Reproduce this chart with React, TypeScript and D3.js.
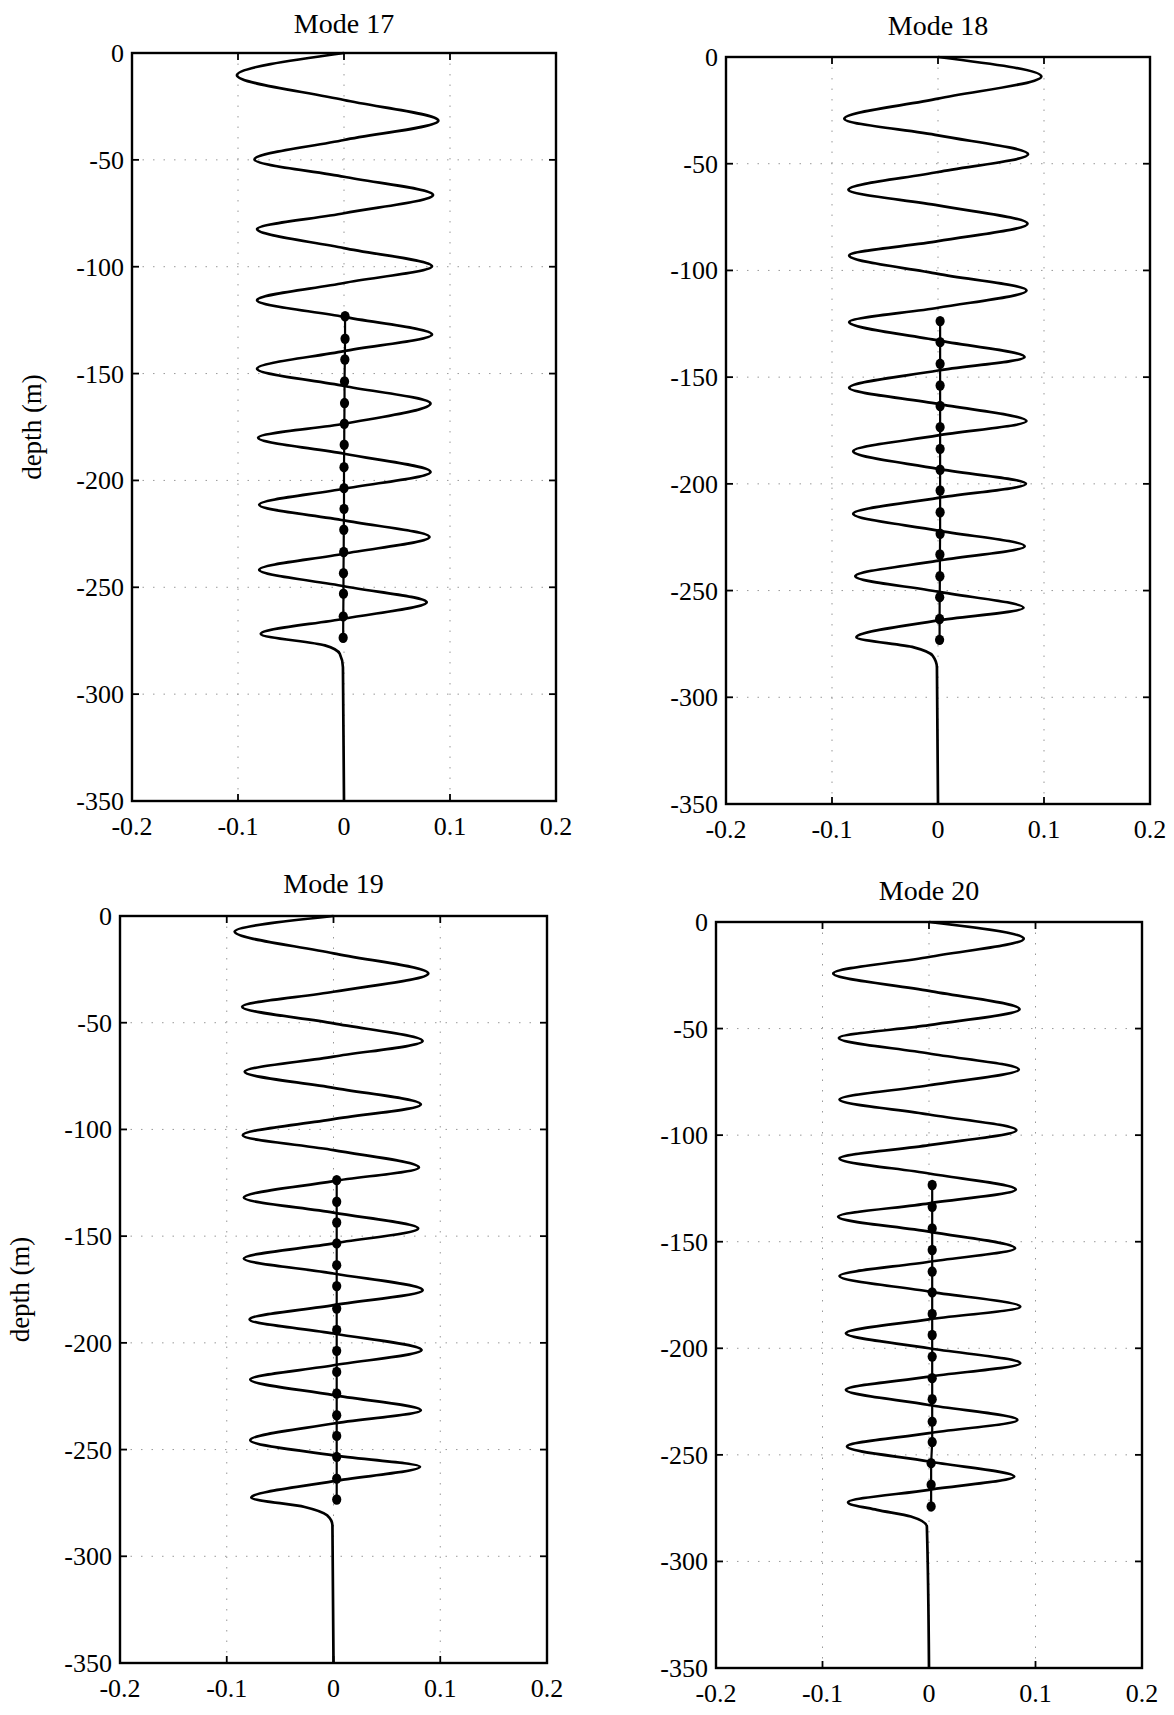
import React from "react";
import * as d3 from "d3";

const modeTitles = ["Mode 17", "Mode 18", "Mode 19", "Mode 20"];

const depth17 = [0, -10.4, -22, -31.7, -40.7, -49.8, -57.9, -66.4, -75, -82.4, -91.3, -99.8, -107.6, -115.7, -123.5, -131.7, -139.5, -147.7, -155.8, -164, -173.5, -180, -187.5, -196, -203.9, -211.4, -218.7, -226.5, -234.3, -241.8, -249.5, -257, -264.7, -271.8, -277.2, -281.1, -287.4, -350];
const value17 = [0, -0.101, 0, 0.089, 0, -0.0845, 0, 0.084, 0, -0.082, 0, 0.083, 0, -0.082, 0, 0.083, 0, -0.082, 0, 0.0816, 0, -0.081, 0, 0.0816, 0, -0.08, 0, 0.0806, 0, -0.08, 0, 0.078, 0, -0.0785, -0.018, -0.004, -0.001, 0];

const depth18 = [0, -9.1, -19.5, -28.9, -36.7, -45.6, -53.9, -62.2, -69.5, -78.1, -86.3, -93, -101.6, -109.4, -117.5, -124.2, -132.8, -140.6, -146.9, -155, -162.5, -170.6, -177.3, -184.7, -193, -200, -206.6, -214, -221.9, -229.2, -236, -243.3, -250.5, -258.1, -264, -271.9, -276.6, -280.5, -286, -350];
const value18 = [0, 0.0975, 0, -0.0884, 0, 0.085, 0, -0.0845, 0, 0.0845, 0, -0.0838, 0, 0.0835, 0, -0.0838, 0, 0.0817, 0, -0.0838, 0, 0.0835, 0, -0.08, 0, 0.083, 0, -0.08, 0, 0.0818, 0, -0.078, 0, 0.0807, 0, -0.077, -0.0228, -0.005, -0.001, 0];

const depth19 = [0, -7.3, -17.5, -26.9, -35.5, -42.5, -50.3, -58.6, -65.9, -73, -80.5, -88.3, -95.2, -102.7, -109.7, -117.8, -124.2, -131.9, -139, -146.4, -153.4, -160.5, -167.5, -175.3, -182.3, -189, -195.6, -203.4, -210.5, -217.2, -224.5, -231.6, -237.8, -245.6, -252.7, -258.1, -264.8, -272.5, -276.9, -280.8, -285.5, -350];
const value19 = [0, -0.0926, 0, 0.0888, 0, -0.0856, 0, 0.0835, 0, -0.0832, 0, 0.0818, 0, -0.085, 0, 0.08, 0, -0.084, 0, 0.0793, 0, -0.084, 0, 0.0835, 0, -0.0786, 0, 0.0825, 0, -0.078, 0, 0.0818, 0, -0.078, 0, 0.081, 0, -0.077, -0.027, -0.006, -0.001, 0];

const depth20 = [0, -7.8, -16.4, -24.2, -32.3, -40.9, -48.4, -54.4, -61.7, -69.2, -76.6, -83.3, -90.3, -97.7, -104.7, -110.9, -118, -125.5, -132, -138.3, -145.3, -153.1, -159.4, -166.1, -173.4, -180.5, -186.4, -193, -200, -207, -213.3, -219.5, -226.6, -233.6, -239.8, -246.1, -253.1, -260.2, -266.4, -272.3, -275.8, -278.9, -283.6, -350];
const value20 = [0, 0.089, 0, -0.0899, 0, 0.085, 0, -0.0846, 0, 0.0843, 0, -0.084, 0, 0.082, 0, -0.084, 0, 0.0815, 0, -0.0853, 0, 0.0808, 0, -0.084, 0, 0.0857, 0, -0.078, 0, 0.0857, 0, -0.078, 0, 0.083, 0, -0.077, 0, 0.08, 0, -0.076, -0.049, -0.017, -0.002, 0];

const sensorDepth17 = [-123.2, -133.7, -143.4, -153.7, -163.8, -173.5, -183.3, -193.8, -203.6, -213.3, -223.1, -233.5, -243.4, -253, -263.6, -273.6];
const sensorValue17 = [0.001, 0.001, 0.0008, 0.0005, 0.0005, 0.0003, 0.0002, 0, 0, 0, -0.0002, -0.0003, -0.0005, -0.0005, -0.0007, -0.0008];
const sensorDepth18 = [-123.75, -133.6, -143.75, -153.9, -163.5, -173.4, -183.6, -193.4, -203.1, -213.3, -223.4, -233.1, -243.3, -253.1, -263.3, -273.1];
const sensorValue18 = [0.002, 0.002, 0.002, 0.002, 0.002, 0.002, 0.002, 0.002, 0.002, 0.002, 0.002, 0.0018, 0.0018, 0.0016, 0.0015, 0.0015];
const sensorDepth19 = [-123.75, -133.9, -143.6, -153.4, -163.6, -173.4, -183.9, -194, -203.75, -213.6, -223.75, -233.9, -243.6, -253.4, -263.6, -273.4];
const sensorValue19 = [0.003, 0.003, 0.003, 0.003, 0.003, 0.003, 0.003, 0.003, 0.003, 0.003, 0.003, 0.003, 0.003, 0.003, 0.003, 0.003];
const sensorDepth20 = [-123.4, -133.6, -143.75, -153.9, -164, -173.75, -183.9, -193.75, -203.9, -214, -223.9, -234.4, -244, -253.9, -264, -274.2];
const sensorValue20 = [0.003, 0.003, 0.003, 0.003, 0.003, 0.003, 0.003, 0.003, 0.003, 0.003, 0.003, 0.003, 0.003, 0.002, 0.002, 0.002];

const xTicks = [-0.2, -0.1, 0, 0.1, 0.2];
const xTickLabels = ["-0.2", "-0.1", "0", "0.1", "0.2"];
const yTicks = [0, -50, -100, -150, -200, -250, -300, -350];
const yTickLabels = ["0", "-50", "-100", "-150", "-200", "-250", "-300", "-350"];
const xGrid = [-0.1, 0, 0.1];
const yGrid = [-50, -100, -150, -200, -250, -300];
const yAxisLabel = "depth (m)";

const modeDepths = [depth17, depth18, depth19, depth20];
const modeValues = [value17, value18, value19, value20];
const sensorDepths = [sensorDepth17, sensorDepth18, sensorDepth19, sensorDepth20];
const sensorValues = [sensorValue17, sensorValue18, sensorValue19, sensorValue20];

// panel geometry (pixels)
const panels = [
  { left: 132, right: 556, top: 53, bottom: 801, titleY: 33, showYLabel: true, yLabelX: 32 },
  { left: 726, right: 1150, top: 57, bottom: 804, titleY: 35, showYLabel: false, yLabelX: 0 },
  { left: 120, right: 547, top: 916, bottom: 1663, titleY: 893, showYLabel: true, yLabelX: 20 },
  { left: 716, right: 1142, top: 922, bottom: 1668, titleY: 900, showYLabel: false, yLabelX: 0 },
];

const FONT = "'Liberation Serif', 'Times New Roman', serif";

function Panel({ idx }: { idx: number }) {
  const p = panels[idx];
  const x = d3.scaleLinear().domain([-0.2, 0.2]).range([p.left, p.right]);
  const y = d3.scaleLinear().domain([0, -350]).range([p.top, p.bottom]);
  const pts = modeDepths[idx].map((d, i) => [modeValues[idx][i], d] as [number, number]);
  const line = d3
    .line<[number, number]>()
    .x((d) => x(d[0]))
    .y((d) => y(d[1]))
    .curve(d3.curveMonotoneY);
  const sPts = sensorDepths[idx].map((d, i) => [sensorValues[idx][i], d] as [number, number]);
  const sLine = d3
    .line<[number, number]>()
    .x((d) => x(d[0]))
    .y((d) => y(d[1]));
  const tickLen = 7;
  return (
    <g>
      {xGrid.map((g) => (
        <line key={"gx" + g} x1={x(g)} x2={x(g)} y1={p.top} y2={p.bottom} stroke="#999" strokeWidth={1} strokeDasharray="1.5 9" />
      ))}
      {yGrid.map((g) => (
        <line key={"gy" + g} x1={p.left} x2={p.right} y1={y(g)} y2={y(g)} stroke="#999" strokeWidth={1} strokeDasharray="1.5 9" />
      ))}
      <path d={line(pts) || ""} fill="none" stroke="#000" strokeWidth={2.7} strokeLinejoin="round" />
      <path d={sLine(sPts) || ""} fill="none" stroke="#000" strokeWidth={2.2} />
      {sPts.map((s, i) => (
        <ellipse key={"s" + i} cx={x(s[0])} cy={y(s[1])} rx={4.6} ry={5.2} fill="#000" />
      ))}
      <rect x={p.left} y={p.top} width={p.right - p.left} height={p.bottom - p.top} fill="none" stroke="#000" strokeWidth={2.4} />
      {xTicks.map((t, i) => (
        <g key={"xt" + i}>
          <line x1={x(t)} x2={x(t)} y1={p.bottom} y2={p.bottom - tickLen} stroke="#000" strokeWidth={1.8} />
          <line x1={x(t)} x2={x(t)} y1={p.top} y2={p.top + tickLen} stroke="#000" strokeWidth={1.8} />
          <text x={x(t)} y={p.bottom + 34} textAnchor="middle" fontFamily={FONT} fontSize={26} fill="#000">
            {xTickLabels[i]}
          </text>
        </g>
      ))}
      {yTicks.map((t, i) => (
        <g key={"yt" + i}>
          <line x1={p.left} x2={p.left + tickLen} y1={y(t)} y2={y(t)} stroke="#000" strokeWidth={1.8} />
          <line x1={p.right} x2={p.right - tickLen} y1={y(t)} y2={y(t)} stroke="#000" strokeWidth={1.8} />
          <text x={p.left - 8} y={y(t) + 9} textAnchor="end" fontFamily={FONT} fontSize={26} fill="#000">
            {yTickLabels[i]}
          </text>
        </g>
      ))}
      <text x={(p.left + p.right) / 2} y={p.titleY} textAnchor="middle" fontFamily={FONT} fontSize={28} fill="#000">
        {modeTitles[idx]}
      </text>
      {p.showYLabel && (
        <text
          transform={`translate(${p.yLabelX + 9},${(p.top + p.bottom) / 2}) rotate(-90)`}
          textAnchor="middle"
          fontFamily={FONT}
          fontSize={27}
          fill="#000"
        >
          {yAxisLabel}
        </text>
      )}
    </g>
  );
}

export default function App() {
  return (
    <svg
      width={1174}
      height={1715}
      viewBox="0 0 1174 1715"
      style={{ position: "absolute", left: 0, top: 0, background: "#fff" }}
    >
      <rect x={0} y={0} width={1174} height={1715} fill="#fff" />
      {panels.map((_, i) => (
        <Panel key={i} idx={i} />
      ))}
    </svg>
  );
}
